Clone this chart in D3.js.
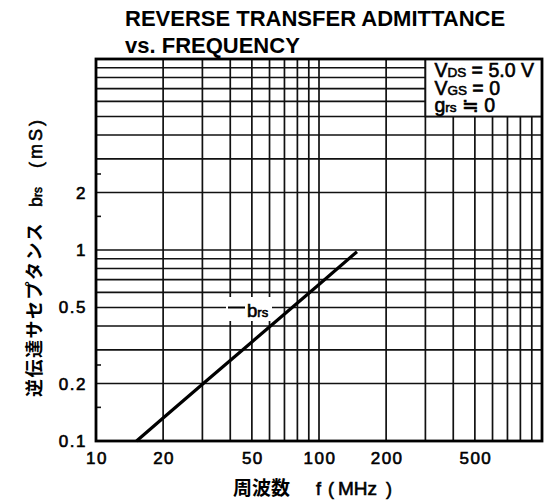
<!DOCTYPE html>
<html><head><meta charset="utf-8">
<script src="https://cdn.jsdelivr.net/npm/d3@7"></script>
<style>body{margin:0;background:#fff}svg{display:block}
.hv{stroke:#000;stroke-width:0.6px;paint-order:stroke fill}</style>
</head><body>
<script>
// ---- data ----
const freqMHz = [15.2, 20, 30, 50, 100, 148];
const brs_mS = [0.1, 0.132, 0.198, 0.33, 0.66, 0.98];
const xTickValues = [10, 20, 50, 100, 200, 500];
const xTickLabels = ["10", "20", "50", "100", "200", "500"];
const yTickValues = [0.1, 0.2, 0.5, 1, 2];
const yTickLabels = ["0.1", "0.2", "0.5", "1", "2"];
const yMinorTicks = [0.15, 0.25, 1.5, 2.5];
const titleLines = ["REVERSE TRANSFER ADMITTANCE", "vs. FREQUENCY"];
const legendLines = [["V", "DS", " = 5.0 V"], ["V", "GS", " = 0"], ["g", "rs", " ≒ 0"]];

const W = 550, H = 502;
const svg = d3.select("body").append("svg").attr("width", W).attr("height", H);
const x = d3.scaleLog().domain([10, 1000]).range([96, 542]);
const y = d3.scaleLog().domain([0.1, 10]).range([441, 59]);
const sans = "'Liberation Sans', Arial, Helvetica, sans-serif";
const jp = "'Noto Sans CJK JP', 'Noto Sans CJK SC', sans-serif";

// grid values
const xGrid = [], yGrid = [];
for (const dec of [10, 100]) for (let k = 1; k <= 9; k++) { const v = dec * k; if (v > 10 && v < 1000) xGrid.push(v); }
for (const dec of [0.1, 1]) for (let k = 1; k <= 9; k++) { const v = +(dec * k).toFixed(3); if (v > 0.1 && v < 10) yGrid.push(v); }

const g = svg.append("g");
g.selectAll("line.vx").data(xGrid).join("line")
  .attr("x1", d => x(d)).attr("x2", d => x(d)).attr("y1", y(10)).attr("y2", y(0.1))
  .attr("stroke", "#111").attr("stroke-width", 1.7);
g.selectAll("line.hy").data(yGrid).join("line")
  .attr("x1", x(10)).attr("x2", x(1000)).attr("y1", d => y(d)).attr("y2", d => y(d))
  .attr("stroke", "#111").attr("stroke-width", 1.7);

// minor ticks on left axis
g.selectAll("line.mt").data(yMinorTicks).join("line")
  .attr("x1", x(10)).attr("x2", x(10) + 5).attr("y1", d => y(d)).attr("y2", d => y(d))
  .attr("stroke", "#111").attr("stroke-width", 1.6);

// legend box (blank region of grid)
const lx0 = x(300), ly1 = y(5);
g.append("rect").attr("x", lx0).attr("y", y(10)).attr("width", x(1000) - lx0).attr("height", ly1 - y(10))
  .attr("fill", "#fff").attr("stroke", "#111").attr("stroke-width", 1.8);
legendLines.forEach((ln, i) => {
  const t = g.append("text").attr("class", "hv").attr("x", lx0 + 9).attr("y", 77 + i * 17.6)
    .attr("font-family", sans).attr("font-size", 19.5).attr("fill", "#000");
  t.append("tspan").text(ln[0]);
  t.append("tspan").attr("font-size", 13.5).text(ln[1]);
  t.append("tspan").text(ln[2]);
});

// curve label background & label
g.append("rect").attr("x", 226).attr("y", 297).attr("width", 46).attr("height", 24).attr("fill", "#fff");
g.append("line").attr("x1", 228).attr("x2", 245).attr("y1", y(0.5)).attr("y2", y(0.5))
  .attr("stroke", "#000").attr("stroke-width", 2);
const bl = g.append("text").attr("class", "hv").attr("x", 247).attr("y", 317).attr("font-family", sans).attr("font-size", 18.5);
bl.append("tspan").text("b");
bl.append("tspan").attr("font-size", 13).text("rs");

// curve
g.append("path").datum(freqMHz.map((f, i) => [f, brs_mS[i]]))
  .attr("d", d3.line().x(d => x(d[0])).y(d => y(d[1])))
  .attr("fill", "none").attr("stroke", "#000").attr("stroke-width", 3.2);

// frame
g.append("rect").attr("x", x(10)).attr("y", y(10)).attr("width", x(1000) - x(10)).attr("height", y(0.1) - y(10))
  .attr("fill", "none").attr("stroke", "#000").attr("stroke-width", 2.8);

// tick labels
svg.selectAll("text.xt").data(xTickValues).join("text").attr("class", "hv")
  .attr("x", d => x(d) + 1).attr("y", 464).attr("text-anchor", "middle")
  .attr("font-family", sans).attr("font-size", 17).attr("letter-spacing", 1.5)
  .text((d, i) => xTickLabels[i]);
svg.selectAll("text.yt").data(yTickValues).join("text").attr("class", "hv")
  .attr("x", 87).attr("y", d => y(d) + 6).attr("text-anchor", "end")
  .attr("font-family", sans).attr("font-size", 17).attr("letter-spacing", 1.5)
  .text((d, i) => yTickLabels[i]);

// title
titleLines.forEach((s, i) => {
  svg.append("text").attr("x", 125).attr("y", 26 + i * 27)
    .attr("font-family", sans).attr("font-weight", "bold").attr("font-size", 22)
    .attr("fill", "#000").text(s);
});

// x label
svg.append("text").attr("x", 233).attr("y", 495).attr("font-family", jp).attr("font-weight", 700).attr("font-size", 19).text("周波数");
svg.append("text").attr("class", "hv").attr("x", 316).attr("y", 495).attr("font-family", sans).attr("font-size", 18).text("f");
svg.append("text").attr("class", "hv").attr("x", 328).attr("y", 495).attr("font-family", sans).attr("font-size", 18).text("(");
svg.append("text").attr("class", "hv").attr("x", 338).attr("y", 495).attr("font-family", sans).attr("font-size", 19).text("MHz");
svg.append("text").attr("class", "hv").attr("x", 386).attr("y", 495).attr("font-family", sans).attr("font-size", 18).text(")");

// y label (rotated)
const yl = svg.append("g").attr("transform", "translate(41,0) rotate(-90)");
yl.append("text").attr("x", -397).attr("y", 0).attr("font-family", jp).attr("font-weight", 700).attr("font-size", 18)
  .attr("letter-spacing", 1.5).text("逆伝達サセプタンス");
const yb = yl.append("text").attr("class", "hv").attr("x", -207).attr("y", 1).attr("font-family", sans).attr("font-size", 18);
yb.append("tspan").text("b");
yb.append("tspan").attr("font-size", 12).text("rs");
yl.append("text").attr("class", "hv").attr("x", -168).attr("y", 1).attr("font-family", sans).attr("font-size", 18)
  .attr("textLength", 48).attr("lengthAdjust", "spacing").text("(mS)");
</script>
</body></html>
